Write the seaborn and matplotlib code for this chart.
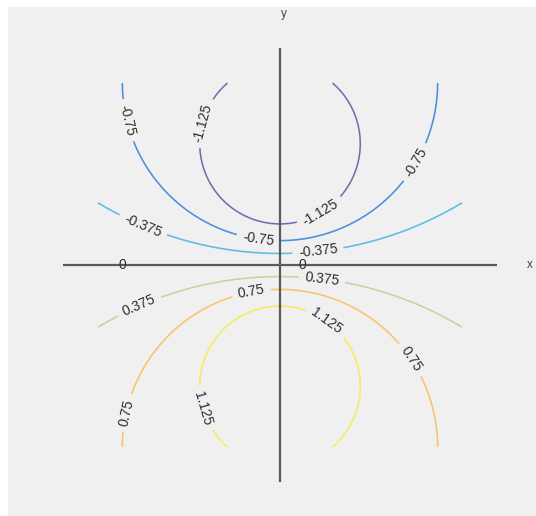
import numpy as np
import matplotlib
matplotlib.use("Agg")
import matplotlib.pyplot as plt
from matplotlib.patches import Rectangle
import seaborn as sns

sns.set_style("white")
plt.rcParams["font.family"] = ["Liberation Sans", "DejaVu Sans"]

# Field: f(x, y) = -3y / (x^2 + y^2 + 1) sampled on [-2, 2] x [-2, 2]
grid_x = np.linspace(-2, 2, 201)
grid_y = np.linspace(-2, 2, 201)
numerator_scale = 3.0
denominator_offset = 1.0

levels = [-1.125, -0.75, -0.375, 0.0, 0.375, 0.75, 1.125]
level_colors = ["#7b69b2", "#4a8fe2", "#5cbde0", "#8a8a8a",
                "#c4d49f", "#f7c46c", "#f3ef5a"]

# positions (data units) where inline labels sit
label_points = [
    (-1.67, 1.59), (-0.80, 1.55), (1.50, 1.12),
    (-1.52, 0.40), (-0.24, 0.29), (0.42, 0.62), (0.42, 0.13),
    (-1.73, 0.0), (0.25, 0.0),
    (-1.55, -0.44), (-0.31, -0.33), (0.46, -0.16),
    (0.54, -0.58), (1.42, -1.05), (-1.65, -1.63), (-0.81, -1.57),
]

axis_half = 2.385

X, Y = np.meshgrid(grid_x, grid_y)
Z = -numerator_scale * Y / (X ** 2 + Y ** 2 + denominator_offset)

W, H = 536, 516
fig = plt.figure(figsize=(W / 100, H / 100), dpi=100, facecolor="white")
ax = fig.add_axes([0, 0, 1, 1])
ax.set_facecolor("none")
ax.add_patch(Rectangle((8 / W, 0), 1 - 8 / W, 1 - 7 / H,
                       transform=fig.transFigure, facecolor="#f0f0f0",
                       edgecolor="none", zorder=0))

cx, cy, s = 280, 265, 91.0
ax.set_xlim((0 - cx) / s, (W - cx) / s)
ax.set_ylim((cy - H) / s, (cy - 0) / s)
ax.set_axis_off()

cs = ax.contour(X, Y, Z, levels=levels, colors=level_colors, linewidths=1.15,
                zorder=2)


def fmt(v):
    if abs(v) < 1e-9:
        return "0"
    return f"{v:g}"


texts = ax.clabel(cs, inline=True, fontsize=10, fmt=fmt, colors="#2e2e2e",
                  manual=label_points, inline_spacing=6)

# coordinate axes through the origin
ax.plot([-axis_half, axis_half], [0, 0], color="#5a5a5a", lw=1.6, zorder=2.5,
        solid_capstyle="butt")
ax.plot([0, 0], [-axis_half, axis_half], color="#5a5a5a", lw=1.6, zorder=2.5,
        solid_capstyle="butt")
ax.text(0.04, (cy - 14) / s, "y", ha="center", va="center", fontsize=8.5,
        color="#444444")
ax.text((530 - cx) / s, 0, "x", ha="center", va="center", fontsize=8.5,
        color="#444444", clip_on=False)

fig.savefig("out.png", dpi=100, facecolor="white")
